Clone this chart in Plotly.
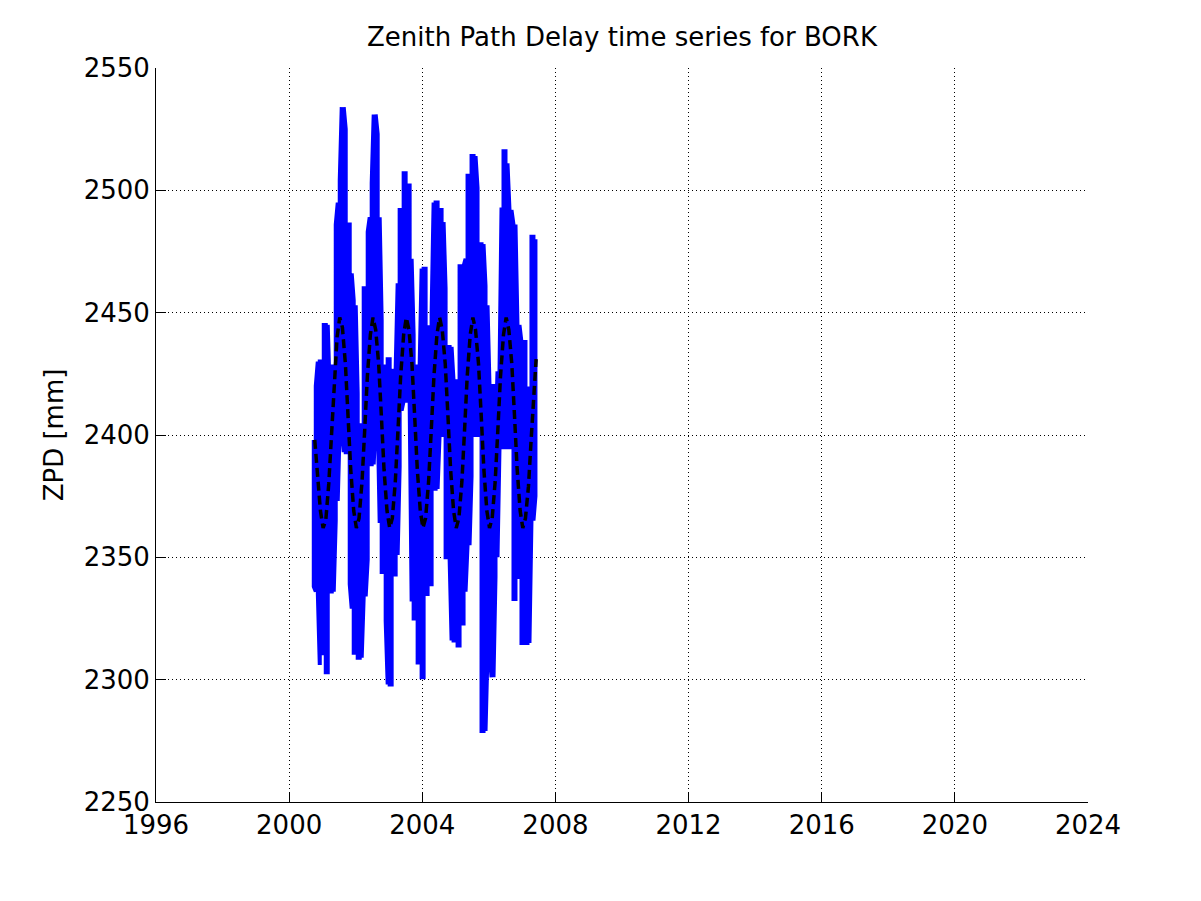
import plotly.graph_objects as go

# ---- data ----
TIME = [2000.74, 2000.80, 2000.86, 2000.92, 2000.98, 2001.04, 2001.10, 2001.16, 2001.22, 2001.28,
        2001.34, 2001.40, 2001.46, 2001.52, 2001.58, 2001.64, 2001.70, 2001.76, 2001.82, 2001.88,
        2001.94, 2002.00, 2002.06, 2002.12, 2002.18, 2002.24, 2002.30, 2002.36, 2002.42, 2002.48,
        2002.54, 2002.60, 2002.66, 2002.72, 2002.78, 2002.84, 2002.90, 2002.96, 2003.02, 2003.08,
        2003.14, 2003.20, 2003.26, 2003.32, 2003.38, 2003.44, 2003.50, 2003.56, 2003.62, 2003.68,
        2003.74, 2003.80, 2003.86, 2003.92, 2003.98, 2004.04, 2004.10, 2004.16, 2004.22, 2004.28,
        2004.34, 2004.40, 2004.46, 2004.52, 2004.58, 2004.64, 2004.70, 2004.76, 2004.82, 2004.88,
        2004.94, 2005.00, 2005.06, 2005.12, 2005.18, 2005.24, 2005.30, 2005.36, 2005.42, 2005.48,
        2005.54, 2005.60, 2005.66, 2005.72, 2005.78, 2005.84, 2005.90, 2005.96, 2006.02, 2006.08,
        2006.14, 2006.20, 2006.26, 2006.32, 2006.38, 2006.44, 2006.50, 2006.56, 2006.62, 2006.68,
        2006.74, 2006.80, 2006.86, 2006.92, 2006.98, 2007.04, 2007.10, 2007.16, 2007.22, 2007.28,
        2007.34, 2007.40]

ZPD_HIGH = [2398, 2420, 2430, 2430, 2430, 2445, 2445, 2445, 2417, 2428,
            2428, 2486, 2495, 2504, 2534, 2534, 2525, 2486, 2486, 2466,
            2455, 2453, 2417, 2404, 2404, 2460, 2460, 2483, 2489, 2503,
            2531, 2531, 2523, 2489, 2447, 2428, 2428, 2431, 2431, 2427,
            2420, 2427, 2462, 2492, 2492, 2507, 2507, 2502, 2502, 2472,
            2441, 2428, 2428, 2428, 2468, 2468, 2468, 2444, 2444, 2450,
            2495, 2495, 2495, 2492, 2492, 2487, 2460, 2436, 2436, 2436,
            2422, 2422, 2422, 2469, 2469, 2469, 2472, 2506, 2506, 2514,
            2514, 2514, 2501, 2478, 2478, 2478, 2461, 2453, 2420, 2420,
            2420, 2400, 2426, 2426, 2493, 2516, 2516, 2511, 2492, 2492,
            2486, 2486, 2445, 2445, 2438, 2438, 2438, 2419, 2419, 2481,
            2481, 2480]

ZPD_LOW = [2338, 2336, 2336, 2306, 2331, 2310, 2303, 2303, 2336, 2336,
           2336, 2365, 2373, 2404, 2404, 2393, 2393, 2393, 2339, 2329,
           2311, 2311, 2309, 2309, 2309, 2334, 2334, 2349, 2388, 2388,
           2388, 2407, 2407, 2364, 2344, 2344, 2324, 2298, 2298, 2298,
           2343, 2343, 2351, 2387, 2410, 2414, 2414, 2414, 2414, 2332,
           2325, 2325, 2307, 2307, 2301, 2301, 2335, 2335, 2339, 2339,
           2378, 2378, 2378, 2400, 2400, 2400, 2350, 2350, 2350, 2316,
           2316, 2316, 2314, 2314, 2323, 2323, 2336, 2355, 2355, 2383,
           2400, 2400, 2400, 2400, 2279, 2279, 2279, 2311, 2311, 2301,
           2301, 2342, 2350, 2395, 2395, 2395, 2395, 2395, 2395, 2395,
           2333, 2333, 2342, 2342, 2315, 2315, 2315, 2315, 2315, 2365,
           2365, 2375]

FIT_TIME = [2000.77, 2000.85, 2000.94, 2001.02, 2001.10, 2001.19, 2001.27, 2001.35, 2001.44, 2001.52,
            2001.60, 2001.69, 2001.77, 2001.85, 2001.94, 2002.02, 2002.10, 2002.19, 2002.27, 2002.35,
            2002.44, 2002.52, 2002.60, 2002.69, 2002.77, 2002.85, 2002.94, 2003.02, 2003.10, 2003.19,
            2003.27, 2003.35, 2003.44, 2003.52, 2003.60, 2003.69, 2003.77, 2003.85, 2003.94, 2004.02,
            2004.10, 2004.19, 2004.27, 2004.35, 2004.44, 2004.52, 2004.60, 2004.69, 2004.77, 2004.85,
            2004.94, 2005.02, 2005.10, 2005.19, 2005.27, 2005.35, 2005.44, 2005.52, 2005.60, 2005.69,
            2005.77, 2005.85, 2005.94, 2006.02, 2006.10, 2006.19, 2006.27, 2006.35, 2006.44, 2006.52,
            2006.60, 2006.69, 2006.77, 2006.85, 2006.94, 2007.02, 2007.10, 2007.19, 2007.27, 2007.35,
            2007.42]

FIT_ZPD = [2398, 2385, 2369, 2362, 2365, 2380, 2401, 2423, 2440, 2448,
           2444, 2429, 2407, 2386, 2369, 2362, 2366, 2381, 2402, 2424,
           2441, 2448, 2443, 2429, 2408, 2386, 2369, 2362, 2366, 2381,
           2402, 2424, 2441, 2448, 2443, 2429, 2408, 2386, 2369, 2362,
           2366, 2381, 2402, 2424, 2441, 2448, 2443, 2429, 2408, 2386,
           2369, 2362, 2366, 2381, 2402, 2424, 2441, 2448, 2443, 2429,
           2408, 2386, 2369, 2362, 2366, 2381, 2402, 2424, 2441, 2448,
           2443, 2429, 2408, 2386, 2369, 2362, 2366, 2379, 2398, 2418,
           2431]

X_TICKS = [1996, 2000, 2004, 2008, 2012, 2016, 2020, 2024]
Y_TICKS = [2250, 2300, 2350, 2400, 2450, 2500, 2550]

TITLE = "Zenith Path Delay time series for BORK"
Y_LABEL = "ZPD [mm]"

# dense noisy series: trace a vertical stroke between low and high at each time
xs, ys = [], []
for i, t in enumerate(TIME):
    if i % 2 == 0:
        xs += [t, t]
        ys += [ZPD_HIGH[i], ZPD_LOW[i]]
    else:
        xs += [t, t]
        ys += [ZPD_LOW[i], ZPD_HIGH[i]]

FONT = "DejaVu Sans, Verdana, sans-serif"
W, H = 1185, 885

fig = go.Figure()
fig.add_trace(go.Scatter(x=xs, y=ys, mode="lines",
                         line=dict(color="#0000ff", width=4), showlegend=False,
                         hoverinfo="skip"))
fig.add_trace(go.Scatter(x=FIT_TIME, y=FIT_ZPD, mode="lines",
                         line=dict(color="#000000", width=3.5, dash="9px,5px"),
                         showlegend=False))

axis_common = dict(
    showgrid=True, gridcolor="#000000", gridwidth=1, griddash="1px,3px",
    showline=True, linecolor="#000000", linewidth=1,
    ticks="inside", ticklen=10, tickwidth=1, tickcolor="#000000",
    zeroline=False, mirror=False,
    tickfont=dict(family=FONT, size=26, color="#000000"),
)

fig.update_layout(
    width=W, height=H,
    paper_bgcolor="#ffffff", plot_bgcolor="#ffffff",
    margin=dict(l=148, r=105, t=60, b=91),
    title=dict(text=TITLE, x=0.5, xref="paper", xanchor="center",
               y=1 - 29 / H, yref="container", yanchor="middle",
               font=dict(family=FONT, size=26, color="#000000")),
    xaxis=dict(range=[1996, 2024], tickvals=X_TICKS, ticktext=[str(v) for v in X_TICKS],
               **axis_common),
    yaxis=dict(range=[2250, 2550], tickvals=Y_TICKS, ticktext=[str(v) for v in Y_TICKS],
               title=dict(text=Y_LABEL, font=dict(family=FONT, size=26, color="#000000"),
                          standoff=12),
               **axis_common),
)

fig.write_html("out.html")
